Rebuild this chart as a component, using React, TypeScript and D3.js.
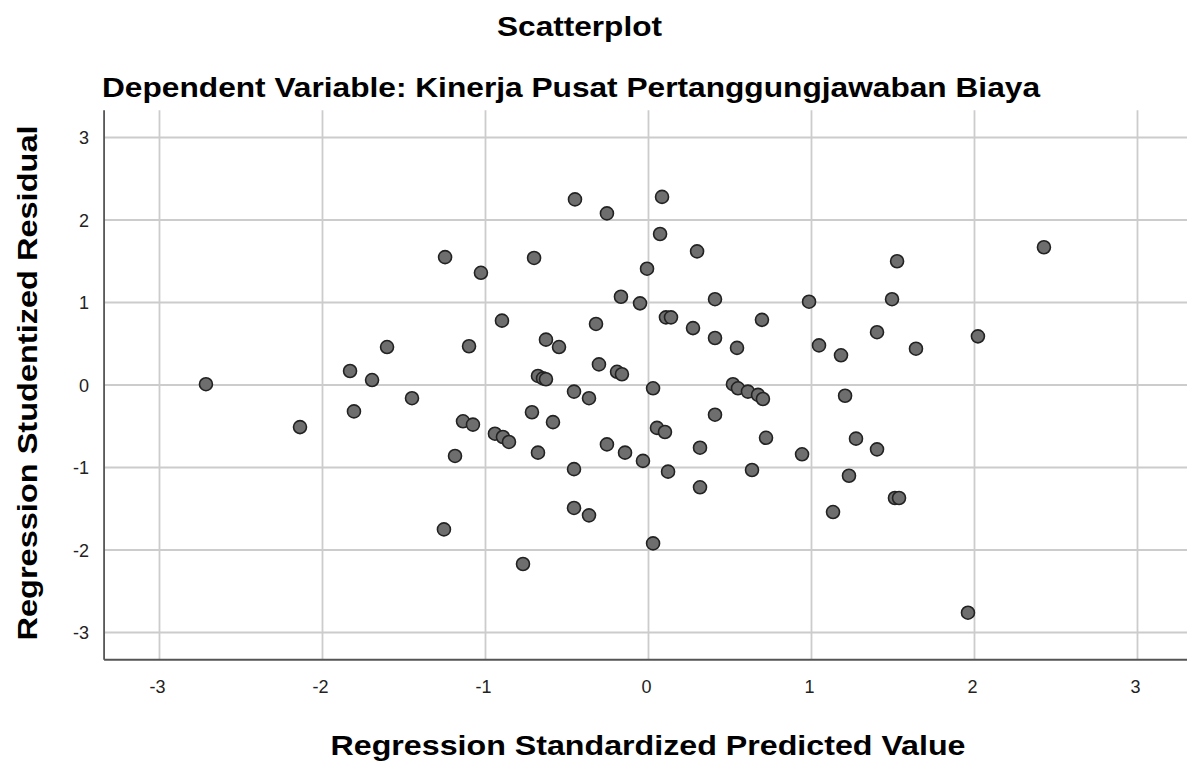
import React from "react";
import * as d3 from "d3";

const predicted: number[] = [
  -2.715, -2.138, -1.831, -1.807, -1.696, -1.604, -1.451, -1.248, -1.255, -1.187,
  -1.138, -1.101, -1.077, -1.028, -0.942, -0.893, -0.856, -0.899, -0.770, -0.715,
  -0.702, -0.678, -0.678, -0.647, -0.629, -0.629, -0.586, -0.549, -0.457, -0.457,
  -0.457, -0.451, -0.365, -0.365, -0.322, -0.304, -0.255, -0.255, -0.193, -0.163,
  -0.169, -0.144, -0.052, -0.034, -0.009, 0.028, 0.028, 0.052, 0.101, 0.071,
  0.083, 0.107, 0.138, 0.120, 0.273, 0.298, 0.316, 0.316, 0.408, 0.408,
  0.408, 0.543, 0.518, 0.549, 0.610, 0.672, 0.702, 0.635, 0.696, 0.721,
  0.942, 0.985, 1.046, 1.181, 1.206, 1.230, 1.132, 1.273, 1.402, 1.402,
  1.494, 1.525, 1.512, 1.537, 1.641, 1.960, 2.021, 2.426,
];

const residual: number[] = [
  0.01, -0.51, 0.17, -0.32, 0.06, 0.46, -0.16, 1.55, -1.75, -0.86,
  -0.44, 0.47, -0.48, 1.36, -0.59, -0.63, -0.69, 0.78, -2.17, -0.33,
  1.54, -0.82, 0.11, 0.08, 0.07, 0.55, -0.45, 0.46, -0.08, -1.02,
  -1.49, 2.25, -1.58, -0.16, 0.74, 0.25, 2.08, -0.72, 0.16, 0.13,
  1.07, -0.82, 0.99, -0.92, 1.41, -0.04, -1.92, -0.52, -0.57, 1.83,
  2.28, 0.82, 0.82, -1.05, 0.69, 1.62, -0.76, -1.24, 1.04, 0.57,
  -0.36, 0.45, 0.01, -0.04, -0.08, -0.12, -0.17, -1.03, 0.79, -0.64,
  -0.84, 1.01, 0.48, 0.36, -0.13, -1.10, -1.54, -0.65, -0.78, 0.64,
  1.04, 1.50, -1.37, -1.37, 0.44, -2.76, 0.59, 1.67,
];

const xTicks: number[] = [-3, -2, -1, 0, 1, 2, 3];
const yTicks: number[] = [-3, -2, -1, 0, 1, 2, 3];

const titleText = "Scatterplot";
const subtitleText = "Dependent Variable: Kinerja Pusat Pertanggungjawaban Biaya";
const xLabel = "Regression Standardized Predicted Value";
const yLabel = "Regression Studentized Residual";

const W = 1187;
const H = 764;
const FONT = "'Liberation Sans', Arial, Helvetica, sans-serif";

export default function App() {
  const x = d3.scaleLinear().domain([-3, 3]).range([159.5, 1137.5]);
  const y = d3.scaleLinear().domain([-3, 3]).range([632.5, 137.5]);
  const left = x(-3.34);
  const right = W;
  const top = y(3.33);
  const bottom = y(-3.33);
  const points = predicted.map((p, i) => ({ px: p, py: residual[i] }));

  return (
    <svg
      width={W}
      height={H}
      style={{ position: "absolute", left: 0, top: 0, background: "#fff" }}
      fontFamily={FONT}
    >
      <rect x={0} y={0} width={W} height={H} fill="#fff" />
      <text x={579.5} y={36} textAnchor="middle" fontSize={28} fontWeight="bold" fill="#000"
        textLength={165} lengthAdjust="spacingAndGlyphs">
        {titleText}
      </text>
      <text x={571} y={97} textAnchor="middle" fontSize={28} fontWeight="bold" fill="#000"
        textLength={938} lengthAdjust="spacingAndGlyphs">
        {subtitleText}
      </text>

      {xTicks.map((t) => (
        <line key={"gx" + t} x1={x(t)} x2={x(t)} y1={top} y2={bottom} stroke="#cccccc" strokeWidth={1.8} />
      ))}
      {yTicks.map((t) => (
        <line key={"gy" + t} x1={left} x2={right} y1={y(t)} y2={y(t)} stroke="#cccccc" strokeWidth={1.8} />
      ))}

      <line x1={left} x2={left} y1={top} y2={bottom} stroke="#555" strokeWidth={1.8} />
      <line x1={left} x2={right} y1={bottom} y2={bottom} stroke="#555" strokeWidth={1.8} />

      {yTicks.map((t) => (
        <text key={"ty" + t} x={89} y={y(t) + 6.5} textAnchor="end" fontSize={18} fill="#222">
          {t}
        </text>
      ))}
      {xTicks.map((t) => (
        <text key={"tx" + t} x={x(t) - 2} y={693} textAnchor="middle" fontSize={18} fill="#222">
          {t}
        </text>
      ))}

      <text x={648} y={755} textAnchor="middle" fontSize={28} fontWeight="bold" fill="#000"
        textLength={635} lengthAdjust="spacingAndGlyphs">
        {xLabel}
      </text>
      <text
        transform={`translate(37, ${(top + bottom) / 2 - 2}) rotate(-90)`}
        textAnchor="middle"
        fontSize={28}
        fontWeight="bold"
        fill="#000"
        textLength={515}
        lengthAdjust="spacingAndGlyphs"
      >
        {yLabel}
      </text>

      {points.map((d, i) => (
        <circle
          key={i}
          cx={x(d.px)}
          cy={y(d.py)}
          r={6.5}
          fill="#6e6e6e"
          stroke="#222"
          strokeWidth={1.6}
        />
      ))}
    </svg>
  );
}
